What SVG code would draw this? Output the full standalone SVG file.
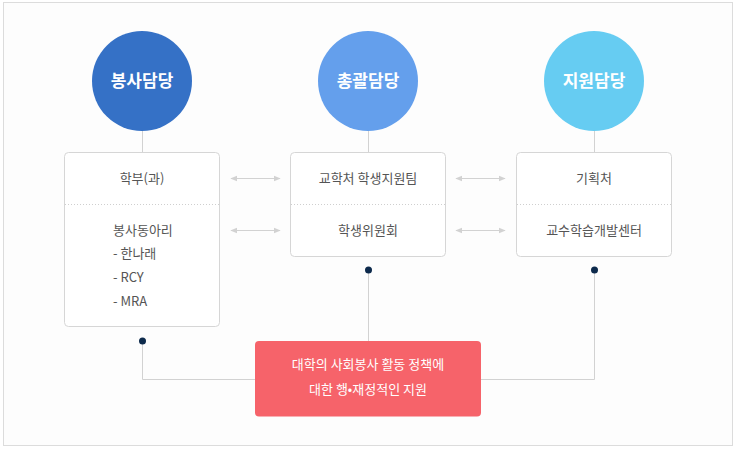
<svg xmlns="http://www.w3.org/2000/svg" width="735" height="449" viewBox="0 0 735 449">
<defs>
<style>
.circ text{font-family:"Noto Sans CJK KR","Noto Sans",sans-serif;font-size:17px;font-weight:bold;fill:#fff;text-anchor:middle}
.box rect.b{fill:#fff;stroke:#d6d6d6;stroke-width:1}
.box line.d{stroke:#cfcfcf;stroke-width:1;stroke-dasharray:1,2}
.t{font-family:"Noto Sans CJK KR","Noto Sans",sans-serif;font-size:13px;fill:#555}
.c{text-anchor:middle}
.ln{stroke:#d2d2d2;stroke-width:1;fill:none}
.ar{stroke:#d2d2d2;stroke-width:1;marker-start:url(#ah);marker-end:url(#ah)}
.dot{fill:#0d2a4c}
</style>
<marker id="ah" viewBox="0 0 10 10" refX="9" refY="5" markerWidth="7" markerHeight="7" orient="auto-start-reverse" markerUnits="userSpaceOnUse">
<path d="M0,1 L10,5 L0,9 Z" fill="#d2d2d2"/>
</marker>
</defs>
<rect x="3.5" y="2.5" width="729" height="443" fill="#fdfdfd" stroke="#dcdcdc"/>
<g id="connectors">
<line class="ln" x1="142.5" y1="131" x2="142.5" y2="153"/>
<line class="ln" x1="368.5" y1="131" x2="368.5" y2="153"/>
<line class="ln" x1="594.5" y1="131" x2="594.5" y2="153"/>
<line class="ar" x1="231" y1="178.5" x2="280" y2="178.5"/>
<line class="ar" x1="231" y1="230.5" x2="280" y2="230.5"/>
<line class="ar" x1="456" y1="178.5" x2="505" y2="178.5"/>
<line class="ar" x1="456" y1="230.5" x2="505" y2="230.5"/>
<polyline class="ln" points="142.5,341 142.5,379.5 255,379.5"/>
<line class="ln" x1="368.5" y1="270" x2="368.5" y2="341"/>
<polyline class="ln" points="594.5,270 594.5,379.5 481,379.5"/>
<circle class="dot" cx="142.5" cy="341" r="3.5"/>
<circle class="dot" cx="368.5" cy="270" r="3.5"/>
<circle class="dot" cx="594.5" cy="270" r="3.5"/>
</g>
<g id="c1" class="circ"><circle cx="142" cy="81" r="50" fill="#3571c6"/><text x="142" y="87">봉사담당</text></g>
<g id="c2" class="circ"><circle cx="368" cy="81" r="50" fill="#649fec"/><text x="368" y="87">총괄담당</text></g>
<g id="c3" class="circ"><circle cx="594" cy="81" r="50" fill="#66ccf2"/><text x="594" y="87">지원담당</text></g>
<g id="b1" class="box">
<rect class="b" x="64.5" y="152.5" width="155" height="174" rx="4"/>
<line class="d" x1="65" y1="204.5" x2="219" y2="204.5"/>
<text class="t c" x="142" y="183">학부(과)</text>
<text class="t" x="113" y="235">봉사동아리</text>
<text class="t" x="113" y="258">- 한나래</text>
<text class="t" x="113" y="282">- RCY</text>
<text class="t" x="113" y="306">- MRA</text>
</g>
<g id="b2" class="box">
<rect class="b" x="290.5" y="152.5" width="155" height="104" rx="4"/>
<line class="d" x1="291" y1="204.5" x2="445" y2="204.5"/>
<text class="t c" x="368" y="183">교학처 학생지원팀</text>
<text class="t c" x="368" y="235">학생위원회</text>
</g>
<g id="b3" class="box">
<rect class="b" x="516.5" y="152.5" width="155" height="104" rx="4"/>
<line class="d" x1="517" y1="204.5" x2="671" y2="204.5"/>
<text class="t c" x="594" y="183">기획처</text>
<text class="t c" x="594" y="235">교수학습개발센터</text>
</g>
<g id="policy">
<rect x="255" y="341" width="226" height="75.5" rx="4" fill="#f6636a"/>
<text class="t c" x="368" y="369" style="fill:#fff">대학의 사회봉사 활동 정책에</text>
<text class="t c" x="368" y="394" style="fill:#fff">대한 행•재정적인 지원</text>
</g>
</svg>
